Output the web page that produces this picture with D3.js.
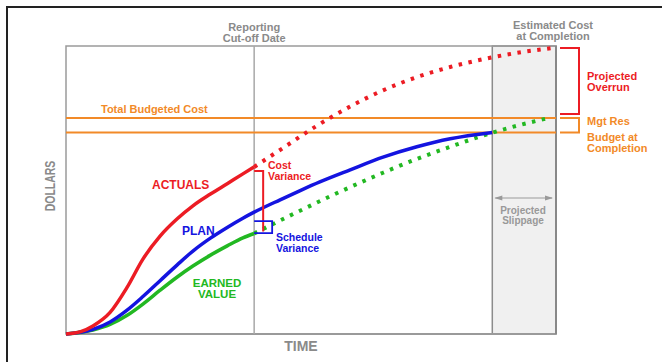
<!DOCTYPE html>
<html>
<head>
<meta charset="utf-8">
<script src="https://cdn.jsdelivr.net/npm/d3@7"></script>
<style>
  body { margin: 0; background: #fff; }
  text { font-family: "Liberation Sans", Arial, sans-serif; font-weight: bold; }
</style>
</head>
<body>
<div id="chart"></div>
<script>
// time 0..100, dollars 0..100
var cutoff = 38.4, estEnd = 87, bac = 70, tbc = 75;

var actuals = [[0,0],[3,0.8],[5.5,2.8],[9,7.5],[12.4,16],[15.7,26],[19.2,34],[22.7,40],[25.9,44.5],[29.4,48.5],[32.9,52.2],[36.1,55.6],[38.4,58]];
var actualsProj = [[38.4,58],[44.3,64.6],[51.2,72.3],[58,79],[64.7,84.6],[71.6,89.2],[78.4,92.7],[85.1,95.4],[92,97.6],[99.2,99.3]];
var plan = [[0,0],[5.5,1.6],[9,4.2],[12.4,8.2],[15.7,13],[19.2,18.5],[22.7,24],[25.9,28.8],[29.4,33.2],[32.9,37],[36.1,40.2],[38.4,42.3],[43.7,46.6],[47.8,49.8],[51.8,52.8],[58,57],[64.7,61.4],[71.6,65],[78.4,67.8],[87,70]];
var earned = [[0,0],[5.5,1.4],[9,3.3],[12.4,6.4],[15.7,10.4],[19.2,15.2],[22.7,19.8],[25.9,23.6],[29.4,27.3],[32.9,30.6],[36.1,33.4],[38.4,34.9]];
var earnedProj = [[38.4,34.9],[45.7,41.1],[53.9,47.8],[64.7,56],[71.6,60.8],[78.4,65],[85.1,68.9],[92,72.3],[98.5,75]];
var schedBox = [35, 39.2];

var svg = d3.select("#chart").append("svg").attr("width", 662).attr("height", 362);

var x = d3.scaleLinear().domain([0, 100]).range([66, 556]);
var y = d3.scaleLinear().domain([0, 100]).range([334, 46]);

var RED = "#ec1c24", BLUE = "#1414e0", GREEN = "#22b822", ORANGE = "#f28a28", GRAY = "#8a8a8a";

// outer frame
svg.append("rect").attr("x", 7).attr("y", 7).attr("width", 700).attr("height", 400)
  .attr("fill", "none").attr("stroke", "#222").attr("stroke-width", 2);

// shaded projected slippage
svg.append("rect").attr("x", x(estEnd)).attr("y", y(100)).attr("width", x(100) - x(estEnd)).attr("height", y(0) - y(100))
  .attr("fill", "#f0f0f0").attr("stroke", "#8c8c8c").attr("stroke-width", 1.5);

// plot frame
svg.append("rect").attr("x", x(0)).attr("y", y(100)).attr("width", x(100) - x(0)).attr("height", y(0) - y(100))
  .attr("fill", "none").attr("stroke", "#9a9a9a").attr("stroke-width", 1.5);
svg.append("line").attr("x1", x(0)).attr("x2", x(100)).attr("y1", y(0)).attr("y2", y(0))
  .attr("stroke", "#9a9a9a").attr("stroke-width", 2.2);
svg.append("line").attr("x1", x(100)).attr("x2", x(100)).attr("y1", y(100)).attr("y2", y(0))
  .attr("stroke", "#888").attr("stroke-width", 2);

// cutoff line
svg.append("line").attr("x1", x(cutoff)).attr("x2", x(cutoff)).attr("y1", y(100)).attr("y2", y(0))
  .attr("stroke", "#a8a8a8").attr("stroke-width", 1.5);

// budget lines
[tbc, bac].forEach(function(v) {
  svg.append("line").attr("x1", x(0)).attr("x2", x(100)).attr("y1", y(v)).attr("y2", y(v))
    .attr("stroke", ORANGE).attr("stroke-width", 2);
});

var line = d3.line().x(function(d) { return x(d[0]); }).y(function(d) { return y(d[1]); }).curve(d3.curveMonotoneX);

function curve(data, color, dotted) {
  var p = svg.append("path").datum(data).attr("d", line).attr("fill", "none")
    .attr("stroke", color).attr("stroke-width", dotted ? 4 : 3.5);
  if (dotted) p.attr("stroke-dasharray", "3.5,6.5");
  return p;
}
curve(actualsProj, RED, true);
curve(earnedProj, GREEN, true);
curve(earned, GREEN, false);
curve(plan, BLUE, false);
curve(actuals, RED, false);

// brackets on right
var bx0 = x(100) + 4, bx1 = x(100) + 23;
svg.append("path").attr("d", "M" + bx0 + "," + y(99.3) + "H" + bx1 + "V" + (y(tbc) - 4) + "H" + bx0)
  .attr("fill", "none").attr("stroke", RED).attr("stroke-width", 2);
svg.append("path").attr("d", "M" + bx0 + "," + y(tbc) + "H" + bx1 + "V" + y(bac) + "H" + bx0)
  .attr("fill", "none").attr("stroke", ORANGE).attr("stroke-width", 2);

// cost variance bracket
var cx = x(cutoff);
svg.append("path").attr("d", "M" + cx + "," + (y(58) + 4) + "H" + (cx + 9) + "V" + (y(34.9) - 2))
  .attr("fill", "none").attr("stroke", RED).attr("stroke-width", 2);
// schedule variance box
svg.append("path").attr("d", "M" + cx + "," + y(schedBox[1]) + "H" + (cx + 18) + "V" + y(schedBox[0]) + "H" + cx)
  .attr("fill", "none").attr("stroke", BLUE).attr("stroke-width", 1.8);

// slippage arrow
var ay = 198;
svg.append("line").attr("x1", x(estEnd) + 3).attr("x2", x(100) - 4).attr("y1", ay).attr("y2", ay)
  .attr("stroke", "#9a9a9a").attr("stroke-width", 1);
svg.append("path").attr("d", "M" + (x(estEnd) + 2) + "," + ay + "l8,-2.5v5z").attr("fill", "#9a9a9a");
svg.append("path").attr("d", "M" + (x(100) - 3) + "," + ay + "l-8,-2.5v5z").attr("fill", "#9a9a9a");

function label(lines, px, py, color, size, anchor, lh) {
  var t = svg.append("text").attr("x", px).attr("y", py).attr("fill", color)
    .attr("font-size", size).attr("text-anchor", anchor || "start");
  lines.forEach(function(s, i) {
    t.append("tspan").attr("x", px).attr("dy", i ? (lh || 10.5) : 0).text(s);
  });
  return t;
}

label(["Reporting", "Cut-off Date"], x(cutoff), 31, GRAY, 11, "middle");
label(["Estimated Cost", "at Completion"], 553, 29, GRAY, 11, "middle");
label(["Total Budgeted Cost"], 101, 113, ORANGE, 11);
label(["Projected", "Overrun"], 587, 80, RED, 11);
label(["Mgt Res"], 587, 125, ORANGE, 11);
label(["Budget at", "Completion"], 587, 141, ORANGE, 11);
label(["Projected", "Slippage"], 523, 214, "#999", 10, "middle", 10);
label(["ACTUALS"], 152, 189, RED, 12);
label(["PLAN"], 182, 235, BLUE, 12);
label(["EARNED", "VALUE"], 217, 287, GREEN, 11.5, "middle", 11);
label(["Cost", "Variance"], 268, 169, RED, 10.5, "start", 10.5);
label(["Schedule", "Variance"], 276, 241, BLUE, 10.5, "start", 10.5);
label(["TIME"], 301, 351, GRAY, 14, "middle");

svg.append("text").attr("transform", "translate(55,186) rotate(-90) scale(0.75,1)")
  .attr("text-anchor", "middle").attr("fill", GRAY).attr("font-size", 14).text("DOLLARS");
</script>
</body>
</html>
